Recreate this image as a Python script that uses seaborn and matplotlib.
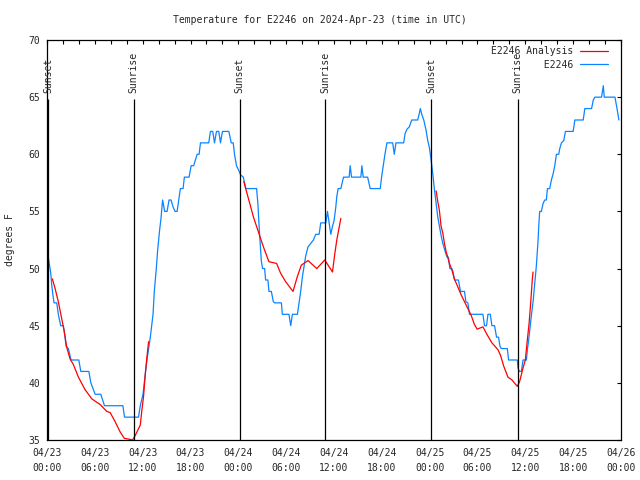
import matplotlib
matplotlib.use("Agg")
import matplotlib.pyplot as plt
from matplotlib.lines import Line2D
import seaborn as sns
import pandas as pd

# hours since 2024-04-23 00:00 UTC
obs_hours = [0.16, 0.47, 0.59, 0.72, 0.88, 1.22, 1.42, 1.72, 2.05, 2.26, 2.39, 2.68, 2.89, 3.02, 3.99, 4.24,
             5.25, 5.50, 6.04, 6.75, 7.21, 9.52, 9.72, 11.48, 11.70, 12.04, 12.20, 12.54, 12.96, 13.30, 13.46,
             13.71, 13.88, 14.13, 14.30, 14.50, 14.76, 15.06, 15.31, 15.56, 15.81, 16.06, 16.32, 16.52, 16.73,
             17.07, 17.23, 17.82, 18.08, 18.40, 18.62, 18.83, 19.08, 19.25, 20.29, 20.50, 20.79, 21.01, 21.26,
             21.55, 21.76, 22.01, 22.81, 23.11, 23.36, 23.52, 23.77, 24.11, 24.28, 24.62, 24.78, 24.94, 26.29,
             26.45, 26.63, 26.79, 26.88, 27.04, 27.30, 27.42, 27.71, 27.84, 28.14, 28.39, 28.55, 29.40, 29.52,
             30.35, 30.57, 30.78, 31.41, 31.61, 31.82, 32.04, 32.24, 32.45, 32.74, 33.08, 33.42, 33.71, 34.13,
             34.34, 34.97, 35.18, 35.39, 35.60, 35.81, 36.01, 36.23, 36.35, 36.52, 36.86, 37.19, 37.90, 38.03,
             38.20, 39.37, 39.50, 39.66, 40.22, 40.54, 41.80, 41.97, 42.23, 42.39, 42.64, 43.36, 43.56, 43.77,
             44.74, 44.91, 45.16, 45.45, 45.75, 46.50, 46.71, 46.83, 47.01, 47.26, 47.55, 47.76, 47.96, 48.18,
             48.39, 48.60, 48.81, 49.02, 49.22, 49.43, 49.65, 50.03, 50.19, 50.35, 50.53, 50.78, 50.94, 51.11,
             51.61, 51.86, 52.37, 52.54, 52.79, 53.00, 54.68, 54.88, 55.13, 55.31, 55.60, 55.81, 56.14, 56.39,
             56.64, 56.82, 56.98, 57.74, 57.90, 59.00, 59.08, 59.25, 59.50, 59.71, 60.13, 60.26, 60.42, 60.60,
             60.76, 60.97, 61.18, 61.39, 61.51, 61.60, 61.68, 61.80, 62.01, 62.23, 62.43, 62.64, 62.77, 63.06,
             63.27, 63.49, 63.69, 63.90, 64.19, 64.32, 64.53, 64.82, 65.03, 66.00, 66.21, 67.26, 67.46, 68.31,
             68.52, 68.72, 69.56, 69.78, 69.90, 71.24, 71.45, 71.66, 71.74]
obs_temp = [51.0, 49.6, 48.6, 47.8, 47, 47, 46, 45, 45, 44, 43.2, 43, 42.4, 42, 42, 41,
            41, 40, 39, 39, 38, 38, 37, 37, 38, 39, 40, 42, 44, 46, 48,
            50, 51.6, 53.4, 54.4, 56, 55, 55, 56, 56, 55.4, 55, 55, 56, 57,
            57, 58, 58, 59, 59, 59.5, 60, 60, 61, 61, 62, 62, 61, 62,
            62, 61, 62, 62, 61, 61, 60, 59, 58.5, 58.2, 58, 57.5, 57, 57,
            55.7, 53.4, 51.6, 50.7, 50, 50, 49, 49, 48, 48, 47.1, 47, 47, 46,
            46, 45, 46, 46, 47, 48, 49.3, 50.2, 51.1, 51.9, 52.2, 52.5, 53, 53,
            54, 54, 55, 54, 53, 53.7, 54.2, 55.4, 56.3, 57, 57, 58, 58, 59,
            58, 58, 59, 58, 58, 57, 57, 58, 59.2, 60, 61, 61, 60, 61,
            61, 61.8, 62.2, 62.4, 63, 63, 63.6, 64, 63.5, 63, 62.1, 61.2, 60.6, 59.5,
            58.3, 56.9, 55.7, 54.5, 53.7, 52.9, 52.2, 51.3, 51.0, 51, 50, 50, 49.7, 49,
            49, 48, 48, 47.1, 47, 46, 46, 45, 45, 46, 46, 45, 45, 44,
            44, 43.2, 43, 43, 42, 42, 41.3, 41, 41, 42, 42, 42.9, 43.75, 44.9,
            45.9, 47.1, 48.7, 50.3, 51.5, 52.5, 53.7, 55, 55, 55.7, 56, 56, 57, 57,
            57.75, 58.3, 59, 60, 60, 60.5, 61, 61.2, 62, 62, 63, 63, 64, 64,
            64.75, 65, 65, 66, 65, 65, 64.2, 63.3, 63]

ana_hours = [0.67, 1.0, 1.42, 1.85, 2.14, 2.48, 2.89, 3.31, 3.94, 4.78, 5.62, 6.67, 7.5, 7.92, 8.55, 9.18,
             9.69, 10.44, 10.73, 11.07, 11.7, 11.9, 12.11, 12.33, 12.54, 12.74,
             24.69, 25.9, 26.95, 27.3, 27.84, 28.8, 29.3, 29.94, 30.86, 31.4, 31.9, 32.74, 33.84, 34.84,
             35.81, 36.1, 36.35, 36.86,
             48.81, 49.02, 49.22, 49.43, 49.65, 49.85, 50.06, 50.48, 50.78, 51.1, 51.53, 51.95, 52.58, 53.21,
             53.62, 53.96, 54.68, 55.22, 55.81, 56.57, 56.89, 57.32, 57.82, 58.33, 58.74, 58.99, 59.28, 59.71,
             60.0, 60.25, 60.47, 60.67, 60.88, 60.97]
ana_temp = [49.1, 48.3, 47.1, 45.6, 44.6, 43.1, 42.1, 41.6, 40.5, 39.4, 38.6, 38.1, 37.5, 37.4, 36.6, 35.7,
            35.15, 35.05, 35.0, 35.4, 36.3, 37.6, 38.8, 40.8, 42.3, 43.6,
            57.6, 54.5, 52.3, 51.6, 50.6, 50.45, 49.6, 48.85, 48.0, 49.3, 50.3, 50.7, 50.0, 50.75,
            49.7, 51.3, 52.5, 54.4,
            56.8, 55.85, 55.1, 53.7, 53.1, 52.2, 51.5, 50.45, 49.9, 49.1, 48.4, 47.7, 46.8, 45.9,
            45.1, 44.7, 44.9, 44.2, 43.5, 42.9, 42.4, 41.4, 40.5, 40.25, 39.9, 39.7, 40.1, 41.3,
            42.0, 43.75, 45.2, 47.0, 49.1, 49.7]
ana_night = [1] * 26 + [2] * 18 + [3] * 34

sun_hours = [0.12, 10.86, 24.19, 34.88, 48.18, 59.06]
sun_names = ["Sunset", "Sunrise", "Sunset", "Sunrise", "Sunset", "Sunrise"]

tick_hours = [0, 6, 12, 18, 24, 30, 36, 42, 48, 54, 60, 66, 72]
tick_labels = ["04/23\n00:00", "04/23\n06:00", "04/23\n12:00", "04/23\n18:00",
               "04/24\n00:00", "04/24\n06:00", "04/24\n12:00", "04/24\n18:00",
               "04/25\n00:00", "04/25\n06:00", "04/25\n12:00", "04/25\n18:00",
               "04/26\n00:00"]

BLUE = "#0a84ff"

sns.set_style("white")
plt.rcParams["font.family"] = ["DejaVu Sans Mono"]
plt.rcParams["font.size"] = 7

obs = pd.DataFrame({"hour": obs_hours, "temp": obs_temp})
ana = pd.DataFrame({"hour": ana_hours, "temp": ana_temp, "night": ana_night})

fig = plt.figure(figsize=(6.4, 4.8), dpi=100)
ax = fig.add_axes([47 / 640, 40 / 480, 574 / 640, 400 / 480])

sns.lineplot(data=obs, x="hour", y="temp", ax=ax, color=BLUE, lw=0.9,
             estimator=None, sort=False)
sns.lineplot(data=ana, x="hour", y="temp", units="night", ax=ax, color="red", lw=0.9,
             estimator=None, sort=False)

ax.vlines(sun_hours, 35, 64.8, color="black", lw=0.9)
for h, name in zip(sun_hours, sun_names):
    ax.text(h, 65.4, name, rotation=90, ha="center", va="bottom", fontsize=7)

ax.set_xlim(0, 72)
ax.set_ylim(35, 70)
ax.set_xticks(tick_hours)
ax.set_xticklabels(tick_labels, linespacing=1.55)
ax.set_xticks(list(range(0, 73, 2)), minor=True)
ax.set_yticks(list(range(35, 71, 5)))
ax.tick_params(which="both", direction="in", top=True, right=True, length=3,
               width=0.8, color="black", labelsize=7)
ax.tick_params(axis="x", pad=6)
ax.tick_params(axis="y", pad=5)
for s in ax.spines.values():
    s.set_color("black")
    s.set_linewidth(0.9)

ax.set_xlabel("")
ax.set_ylabel("degrees F", fontsize=7)
ax.yaxis.set_label_coords(-32 / 574, 0.5)

handles = [Line2D([], [], color="red", lw=0.9), Line2D([], [], color=BLUE, lw=0.9)]
ax.legend(handles, ["E2246 Analysis", "         E2246"], loc="upper right",
          bbox_to_anchor=(1 - 13 / 574, 1 - 6.5 / 400), borderaxespad=0, borderpad=0,
          frameon=False, markerfirst=False, handlelength=2.9, handletextpad=0.7,
          labelspacing=0.35, fontsize=7)

fig.text(0.5, 1 - 20 / 480, "Temperature for E2246 on 2024-Apr-23 (time in UTC)",
         ha="center", va="center", fontsize=7)

fig.savefig("out.png", dpi=100)
